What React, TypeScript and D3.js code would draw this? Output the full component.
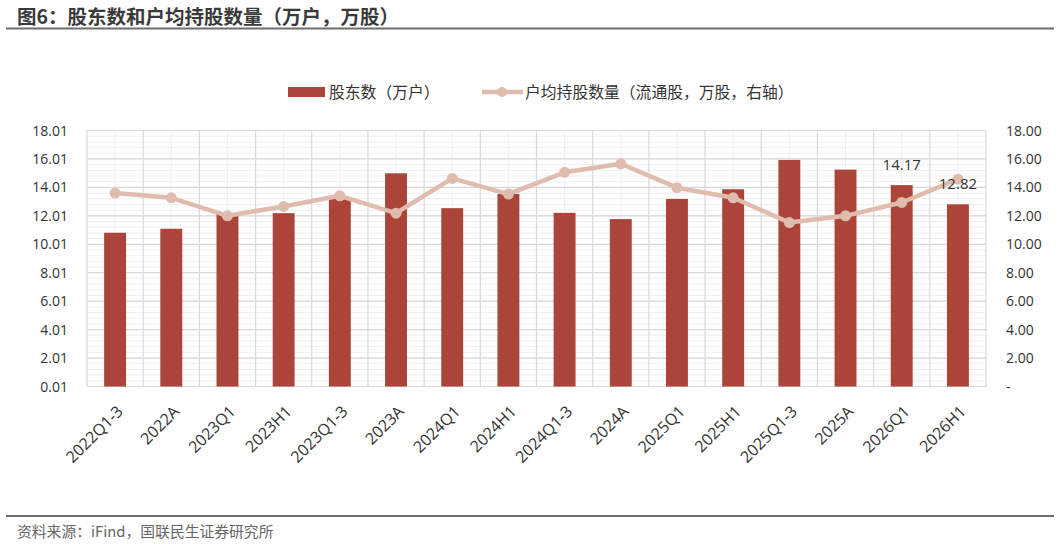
import * as d3 from 'd3';

const categories = [
  '2022Q1-3', '2022A', '2023Q1', '2023H1', '2023Q1-3', '2023A', '2024Q1', '2024H1',
  '2024Q1-3', '2024A', '2025Q1', '2025H1', '2025Q1-3', '2025A', '2026Q1', '2026H1',
];
// 股东数（万户）— left axis
const holders = [10.82, 11.1, 12.2, 12.2, 13.3, 15.0, 12.55, 13.55, 12.22, 11.78, 13.2, 13.88, 15.94, 15.26, 14.17, 12.82];
// 户均持股数量（流通股，万股）— right axis
const perHolder = [13.6, 13.27, 12.0, 12.66, 13.41, 12.19, 14.63, 13.53, 15.06, 15.66, 13.98, 13.27, 11.53, 12.0, 12.94, 14.58];
const leftTicks = [0.01, 2.01, 4.01, 6.01, 8.01, 10.01, 12.01, 14.01, 16.01, 18.01];
const rightTicks = [0, 2, 4, 6, 8, 10, 12, 14, 16, 18];
const labelled = ['2026Q1', '2026H1'];

const W = 1060;
const H = 544;
const plot = { left: 87, right: 986, top: 130.5, bottom: 386.5 };
const barColor = '#ab4539';
const lineColor = '#dfbcae';
const font = '"Open Sans", "Noto Sans CJK SC", sans-serif';
const cjk = '"Noto Sans CJK SC", sans-serif';

export default function App() {
  const x = d3.scaleBand<string>().domain(categories).range([plot.left, plot.right]).padding(0);
  const yL = d3.scaleLinear().domain([0.01, 18.01]).range([plot.bottom, plot.top]);
  const yR = d3.scaleLinear().domain([0, 18]).range([plot.bottom, plot.top]);
  const bw = x.bandwidth() * 0.39;
  const cx = (c: string) => (x(c) ?? 0) + x.bandwidth() / 2;

  const minorY = d3.range(0, 46).map(i => 0.01 + i * 0.4);
  const line = d3.line<number>()
    .x((_, i) => cx(categories[i]))
    .y(d => yR(d));

  return (
    <svg width={W} height={H} style={{ position: 'absolute', left: 0, top: 0, background: '#fff' }}>
      {/* title */}
      <text x={17} y={23.5} fontFamily={cjk} fontSize={19.5} fontWeight={700} fill="#3a3a3a">
        图6：股东数和户均持股数量（万户，万股）
      </text>
      <line x1={6} x2={1054} y1={28.5} y2={28.5} stroke="#6e6e6e" strokeWidth={2} />

      {/* legend */}
      <rect x={288} y={87} width={37} height={10} fill={barColor} />
      <text x={329} y={97.5} fontFamily={cjk} fontSize={15.8} fill="#333">股东数（万户）</text>
      <line x1={482} x2={523} y1={92} y2={92} stroke={lineColor} strokeWidth={4.5} />
      <circle cx={502} cy={92} r={5} fill={lineColor} />
      <text x={525} y={97.5} fontFamily={cjk} fontSize={15.8} fill="#333">户均持股数量（流通股，万股，右轴）</text>

      {/* grid */}
      <g>
        {minorY.map((v, i) => (
          <line key={'my' + i} x1={plot.left} x2={plot.right} y1={yL(v)} y2={yL(v)} stroke="#efefef" strokeWidth={1} />
        ))}
        {categories.map(c => (
          <line key={'mx' + c} x1={cx(c)} x2={cx(c)} y1={plot.top} y2={plot.bottom} stroke="#efefef" strokeWidth={1} />
        ))}
        {leftTicks.map(v => (
          <line key={'gy' + v} x1={plot.left} x2={plot.right} y1={yL(v)} y2={yL(v)} stroke="#d9d9d9" strokeWidth={1.2} />
        ))}
        {categories.map(c => (
          <line key={'gx' + c} x1={x(c)} x2={x(c)} y1={plot.top} y2={plot.bottom} stroke="#d9d9d9" strokeWidth={1.2} />
        ))}
        <line x1={plot.right} x2={plot.right} y1={plot.top} y2={plot.bottom} stroke="#d9d9d9" strokeWidth={1.2} />
      </g>

      {/* bars */}
      {holders.map((v, i) => (
        <rect
          key={'b' + i}
          x={cx(categories[i]) - bw / 2}
          y={yL(v)}
          width={bw}
          height={yL(0.01) - yL(v)}
          fill={barColor}
        />
      ))}

      {/* line */}
      <path d={line(perHolder) ?? ''} fill="none" stroke={lineColor} strokeWidth={4.5} strokeLinejoin="round" />
      {perHolder.map((v, i) => (
        <circle key={'p' + i} cx={cx(categories[i])} cy={yR(v)} r={5.5} fill={lineColor} />
      ))}

      {/* bar value labels */}
      {holders.map((v, i) =>
        labelled.includes(categories[i]) ? (
          <text key={'l' + i} x={cx(categories[i])} y={yL(v) - 15} textAnchor="middle" fontFamily={font} fontSize={15} fill="#333">
            {v.toFixed(2)}
          </text>
        ) : null
      )}

      {/* left axis */}
      {leftTicks.map(v => (
        <text key={'yl' + v} x={68} y={yL(v) + 5} textAnchor="end" fontFamily={font} fontSize={14} fill="#333">
          {v.toFixed(2)}
        </text>
      ))}
      {/* right axis */}
      {rightTicks.map(v => (
        <text key={'yr' + v} x={1006} y={yR(v) + 5} textAnchor="start" fontFamily={font} fontSize={14} fill="#333">
          {v === 0 ? '-' : v.toFixed(2)}
        </text>
      ))}

      {/* x axis labels */}
      {categories.map(c => (
        <text
          key={'xl' + c}
          transform={`translate(${cx(c) + 9},${plot.bottom + 26}) rotate(-45)`}
          textAnchor="end"
          fontFamily={font}
          fontSize={16}
          fill="#333"
        >
          {c}
        </text>
      ))}

      {/* footer */}
      <line x1={6} x2={1054} y1={516} y2={516} stroke="#6e6e6e" strokeWidth={2} />
      <text x={17} y={537} fontFamily={cjk} fontSize={14.8} fill="#666">资料来源：iFind，国联民生证券研究所</text>
    </svg>
  );
}
